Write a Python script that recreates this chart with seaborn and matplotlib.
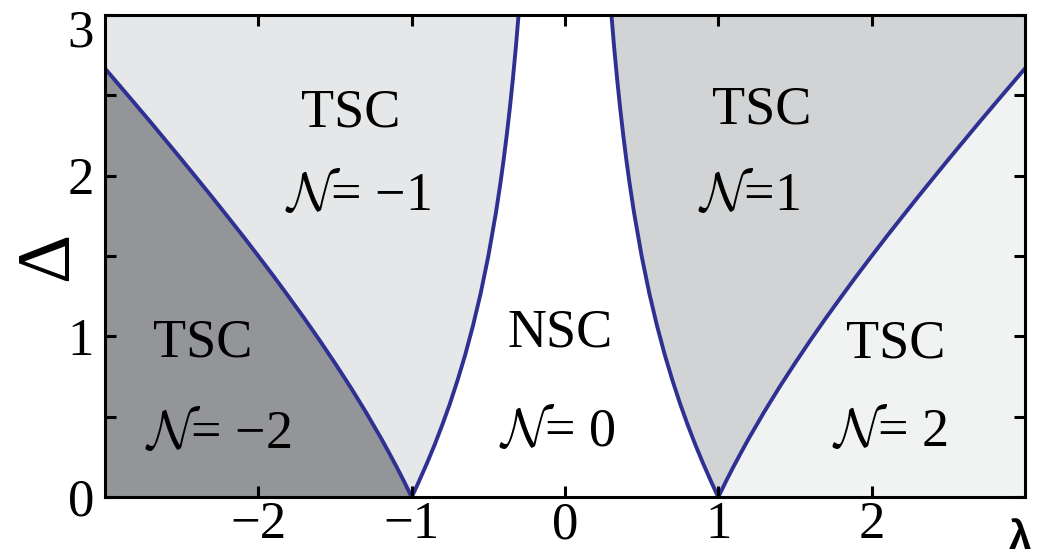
import matplotlib
matplotlib.use("Agg")
import matplotlib.pyplot as plt
import matplotlib.transforms as mtransforms
import seaborn as sns
import numpy as np
import pandas as pd

# Phase boundary, outer branch (lambda >= 1): Delta vs lambda
outer_lam = [1.00, 1.05, 1.10, 1.15, 1.20, 1.30, 1.40, 1.50, 1.60, 1.70, 1.80, 1.90,
             2.00, 2.10, 2.20, 2.30, 2.40, 2.50, 2.60, 2.70, 2.80, 2.90, 3.00]
outer_delta = [0.000, 0.098, 0.191, 0.280, 0.367, 0.531, 0.686, 0.833, 0.975, 1.112, 1.244, 1.374,
               1.500, 1.624, 1.745, 1.865, 1.983, 2.100, 2.215, 2.330, 2.443, 2.555, 2.667]

# Phase boundary, inner branch (0 < lambda <= 1): Delta vs lambda
inner_lam = [1.00, 0.98, 0.95, 0.90, 0.85, 0.80, 0.75, 0.70, 0.65, 0.60, 0.55, 0.50,
             0.45, 0.42, 0.40, 0.38, 0.36, 0.34, 0.32, 0.30]
inner_delta = [0.000, 0.040, 0.103, 0.211, 0.326, 0.450, 0.583, 0.729, 0.888, 1.067, 1.268, 1.500,
               1.772, 1.961, 2.100, 2.252, 2.418, 2.601, 2.805, 3.033]

# Region labels
region_names = ["TSC", "TSC", "NSC", "TSC", "TSC"]
region_index = ["= −2", "= −1", "= 0", "=1", "= 2"]
name_lam = [-2.36, -1.40, -0.03, 1.28, 2.16]
name_delta = [0.96, 2.39, 1.02, 2.41, 0.95]
index_lam = [-2.26, -1.35, -0.05, 1.20, 2.12]
index_delta = [0.39, 1.87, 0.40, 1.87, 0.40]

x_ticks = [-2, -1, 0, 1, 2]
x_ticklabels = ["−2", "−1", "0", "1", "2"]
y_ticks = [0, 0.5, 1, 1.5, 2, 2.5, 3]
y_ticklabels = ["0", "", "1", "", "2", "", "3"]

sns.set_style("ticks")
plt.rcParams["font.family"] = ["Liberation Serif", "DejaVu Serif"]
plt.rcParams["mathtext.fontset"] = "cm"
plt.rcParams["text.color"] = "black"
plt.rcParams["xtick.color"] = "black"
plt.rcParams["ytick.color"] = "black"
plt.rcParams["axes.edgecolor"] = "black"
plt.rcParams["axes.labelcolor"] = "black"

line_color = "#2e3192"
c_m2, c_m1, c_p1, c_p2 = "#939598", "#e6e7e8", "#d1d3d4", "#f1f2f2"

fig = plt.figure(figsize=(10.43, 5.56), dpi=100)
ax = fig.add_axes([0.1007, 0.106, 0.8820, 0.867])
ax.set_facecolor("white")
ax.set_axisbelow(False)

o_lam = np.array(outer_lam)
o_del = np.array(outer_delta)
i_lam = np.array(inner_lam)
i_del = np.array(inner_delta)

# Shaded phases
ax.fill_betweenx(i_del, -3, -i_lam, color=c_m1, lw=0, zorder=1)
ax.fill_betweenx(i_del, i_lam, 3, color=c_p1, lw=0, zorder=1)
ax.fill_between(-o_lam, 0, o_del, color=c_m2, lw=0, zorder=1.5)
ax.fill_between(o_lam, 0, o_del, color=c_p2, lw=0, zorder=1.5)

# Phase boundaries
curves = []
for k, (lx, ly) in enumerate([(o_lam, o_del), (-o_lam, o_del), (i_lam, i_del), (-i_lam, i_del)]):
    curves.append(pd.DataFrame({"lam": lx, "delta": ly, "branch": k}))
df = pd.concat(curves, ignore_index=True)
for k, sub in df.groupby("branch"):
    sns.lineplot(data=sub, x="lam", y="delta", sort=False, estimator=None,
                 color=line_color, lw=2.8, ax=ax, zorder=2)

# Region labels
for lx, ly, s in zip(name_lam, name_delta, region_names):
    ax.text(lx, ly, s, ha="center", va="center", fontsize=39, zorder=4)
for lx, ly, s in zip(index_lam, index_delta, region_index):
    ax.text(lx, ly, r"$\mathcal{N}$" + s, ha="center", va="center", fontsize=39, zorder=4)

ax.set_xlim(-3, 3)
ax.set_ylim(0, 3)
ax.set_xticks(x_ticks)
ax.set_xticklabels(x_ticklabels)
ax.set_yticks(y_ticks)
ax.set_yticklabels(y_ticklabels)
ax.tick_params(direction="in", length=8, width=2.2, labelsize=38,
               top=True, right=True)
ax.tick_params(axis="x", pad=3)
ax.tick_params(axis="y", pad=8)
for sp in ax.spines.values():
    sp.set_linewidth(2.2)
    sp.set_visible(True)
    sp.set_color("black")
    sp.set_zorder(5)

# Nudge the top y label down so it sits inside the figure
top_label = ax.get_yticklabels()[-1]
top_label.set_transform(top_label.get_transform()
                        + mtransforms.ScaledTranslation(0, -9 / 72, fig.dpi_scale_trans))

ax.set_xlabel("")
ax.set_ylabel("Δ", fontsize=55, rotation=90)
ax.yaxis.set_label_coords(-0.024, 0.5)
ax.text(0.995, -0.085, "λ", transform=ax.transAxes, ha="center", va="center",
        fontsize=29, fontweight="bold", family=["Liberation Sans", "DejaVu Sans"])

fig.savefig("out.png", dpi=100)
